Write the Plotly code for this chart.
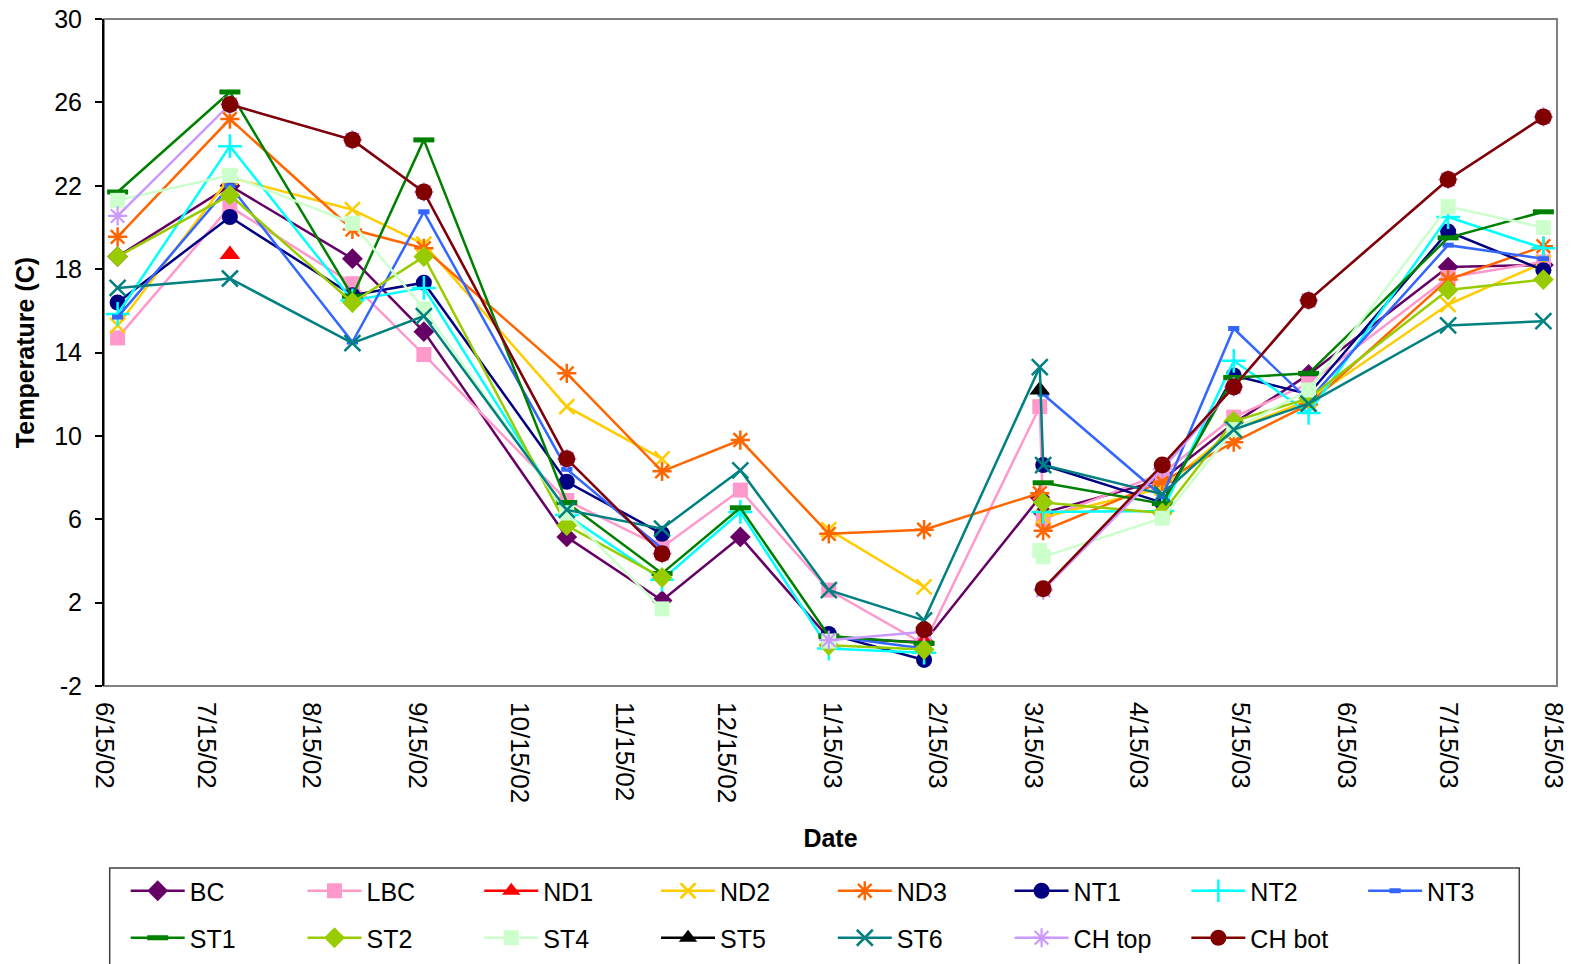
import plotly.graph_objects as go

# ---------------- data ----------------
DATES = ['2002-06-19', '2002-07-22', '2002-08-27', '2002-09-17', '2002-10-29',
         '2002-11-26', '2002-12-19', '2003-01-14', '2003-02-11', '2003-03-17',
         '2003-03-18', '2003-04-22', '2003-05-13', '2003-06-04', '2003-07-15',
         '2003-08-12']

BC = [18.6, 22.0, 18.5, 15.0, 5.15, 2.1, 5.15, 0.3, 0.1, 7.05, 6.3, 7.9, 10.6, 12.95, 18.1, 18.2]
LBC = [14.7, 21.0, 17.3, 13.9, 6.9, 4.65, 7.4, 2.6, 0.0, 11.4, 6.0, 8.2, 10.9, 12.5, 17.6, 18.35]
ND1 = [None, 18.7, None, None, None, None, None, None, 0.15, None, None, None, None, None, None, None]
ND2 = [15.3, 22.4, 20.85, 19.2, 11.4, 8.9, None, 5.5, 2.75, None, 6.1, 7.5, 10.3, 11.7, 16.3, 18.3]
ND3 = [19.55, 25.2, 19.9, 19.0, 13.0, 8.3, 9.8, 5.3, 5.5, 7.25, 5.45, 7.8, 9.7, 11.5, 17.5, 19.1]
NT1 = [16.4, 20.5, 16.75, 17.35, 7.8, 5.3, None, 0.5, -0.75, None, 8.6, 6.8, 12.9, 12.0, 19.8, 17.95]
NT2 = [15.85, 23.9, 16.5, 17.1, 6.2, 3.1, 6.35, -0.2, -0.4, None, 6.35, 6.4, 13.6, 11.1, 20.5, 19.0]
NT3 = [15.7, 22.0, 14.5, 20.75, 8.4, 4.6, None, 0.4, -0.2, None, 12.0, 7.1, 15.15, 11.7, 19.15, 18.5]
ST1 = [21.7, 26.5, 16.7, 24.2, 6.8, 3.4, 6.55, 0.4, 0.05, None, 7.75, 6.75, 12.8, 13.0, 19.5, 20.75]
ST2 = [18.6, 21.55, 16.4, 18.6, 5.7, 3.2, None, -0.05, -0.25, None, 6.8, 6.3, 10.7, 11.8, 17.0, 17.5]
ST4 = [21.3, 22.5, 20.2, 16.1, 6.3, 1.7, None, 0.15, None, 4.5, 4.2, 6.05, 10.3, 12.2, 21.0, 20.0]
ST5 = [None, None, None, None, None, None, None, None, None, 12.2, None, None, None, None, None, None]
ST6 = [17.1, 17.55, 14.45, 15.75, 6.45, 5.55, 8.35, 2.6, 1.15, 13.3, 8.6, 7.2, 10.3, 11.55, 15.3, 15.5]
CH_TOP = [20.55, 25.9, 24.2, 21.7, 8.9, 4.35, None, 0.2, 0.6, None, 2.6, 8.4, 12.35, 16.5, 22.3, 25.3]
CH_BOT = [None, 25.9, 24.2, 21.7, 8.9, 4.35, None, None, 0.7, None, 2.67, 8.6, 12.35, 16.5, 22.3, 25.3]

SERIES_NAMES = ['BC', 'LBC', 'ND1', 'ND2', 'ND3', 'NT1', 'NT2', 'NT3',
                'ST1', 'ST2', 'ST4', 'ST5', 'ST6', 'CH top', 'CH bot']
SERIES_VALUES = [BC, LBC, ND1, ND2, ND3, NT1, NT2, NT3,
                 ST1, ST2, ST4, ST5, ST6, CH_TOP, CH_BOT]

TICK_DATES = ['2002-06-15', '2002-07-15', '2002-08-15', '2002-09-15', '2002-10-15',
              '2002-11-15', '2002-12-15', '2003-01-15', '2003-02-15', '2003-03-15',
              '2003-04-15', '2003-05-15', '2003-06-15', '2003-07-15', '2003-08-15']
TICK_LABELS = ['6/15/02', '7/15/02', '8/15/02', '9/15/02', '10/15/02', '11/15/02',
               '12/15/02', '1/15/03', '2/15/03', '3/15/03', '4/15/03', '5/15/03',
               '6/15/03', '7/15/03', '8/15/03']
Y_TICKS = [-2, 2, 6, 10, 14, 18, 22, 26, 30]
Y_TICK_LABELS = ['-2', '2', '6', '10', '14', '18', '22', '26', '30']

# ---------------- styles ----------------
STYLES = {
    'BC':     dict(color='#660066', symbol='diamond', size=16, lw=0),
    'LBC':    dict(color='#FF99CC', symbol='square', size=15, lw=0),
    'ND1':    dict(color='#FF0000', symbol='triangle-up', size=18, lw=0),
    'ND2':    dict(color='#FFCC00', symbol='x-thin', size=15, lw=2.5),
    'ND3':    dict(color='#FF6600', symbol='asterisk', size=16, lw=2.5),
    'NT1':    dict(color='#000080', symbol='circle', size=16, lw=0),
    'NT2':    dict(color='#00FFFF', symbol='cross-thin', size=17, lw=2.5),
    'NT3':    dict(color='#3366FF', symbol='line-ew', size=8, lw=5),
    'ST1':    dict(color='#008000', symbol='line-ew', size=15, lw=5),
    'ST2':    dict(color='#99CC00', symbol='diamond', size=16, lw=0),
    'ST4':    dict(color='#CCFFCC', symbol='square', size=15, lw=0),
    'ST5':    dict(color='#000000', symbol='triangle-up', size=18, lw=0),
    'ST6':    dict(color='#008080', symbol='x-thin', size=16, lw=2.5),
    'CH top': dict(color='#CC99FF', symbol='asterisk', size=16, lw=2.2),
    'CH bot': dict(color='#800000', symbol='circle', size=17, lw=0),
}

FONT = 'Liberation Sans, Arial, sans-serif'

# plot area geometry (px)
PX_L, PX_R, PX_T, PX_B = 104.3, 1556.7, 19.0, 686.0
W, H = 1575, 964
PW, PH = PX_R - PX_L, PX_B - PX_T

fig = go.Figure()

legends = {}
for i, (name, vals) in enumerate(zip(SERIES_NAMES, SERIES_VALUES)):
    st = STYLES[name]
    key = 'legend' if i == 0 else f'legend{i + 1}'
    row, col = divmod(i, 8)
    line_start_px = 131 + 176.7 * col
    row_center_px = 891 if row == 0 else 938
    legends[key] = dict(
        x=(line_start_px - 5 - PX_L) / PW,
        y=(PX_B - row_center_px) / PH,
        xanchor='left', yanchor='middle',
        orientation='h', itemwidth=54,
        bgcolor='rgba(0,0,0,0)', borderwidth=0,
        font=dict(family=FONT, size=25, color='black'),
    )
    marker = dict(symbol=st['symbol'], size=st['size'], color=st['color'])
    if st['lw']:
        marker['line'] = dict(color=st['color'], width=st['lw'])
    else:
        marker['line'] = dict(width=0)
    fig.add_trace(go.Scatter(
        x=DATES, y=vals, name=name, mode='lines+markers',
        line=dict(color=st['color'], width=2.5),
        marker=marker, connectgaps=False, legend=key,
        cliponaxis=False,
    ))

layout_kwargs = dict(
    width=W, height=H,
    margin=dict(l=PX_L, r=W - PX_R, t=PX_T, b=H - PX_B, autoexpand=False),
    paper_bgcolor='white', plot_bgcolor='white',
    showlegend=True,
    font=dict(family=FONT, color='black'),
    xaxis=dict(
        type='date', range=['2002-06-15', '2003-08-16'],
        tickmode='array', tickvals=TICK_DATES, ticktext=TICK_LABELS,
        tickangle=90, ticks='', showline=False, showgrid=False, zeroline=False,
        tickfont=dict(family=FONT, size=26, color='black'),
        ticklabelstandoff=15,
        title=dict(text='Date', font=dict(family=FONT, size=25, color='black', weight='bold'),
                   standoff=27),
    ),
    xaxis2=dict(
        type='date', range=['2002-06-15', '2003-08-16'], overlaying='x',
        anchor='free', position=(0 - Y_TICKS[0]) / (Y_TICKS[-1] - Y_TICKS[0]),
        tickmode='array', tickvals=TICK_DATES, showticklabels=False,
        ticks='outside', ticklen=8, tickwidth=1.5, tickcolor='#555555',
        showline=True, linecolor='black', linewidth=1.5,
        showgrid=False, zeroline=False, layer='below traces',
    ),
    yaxis=dict(
        range=[Y_TICKS[0], Y_TICKS[-1]], tickmode='array', tickvals=Y_TICKS,
        ticktext=Y_TICK_LABELS,
        ticks='outside', ticklen=7, tickwidth=1.5, tickcolor='black',
        showline=True, linecolor='black', linewidth=2,
        showgrid=False, zeroline=False,
        tickfont=dict(family=FONT, size=25, color='black'),
        ticklabelstandoff=8,
        title=dict(text='Temperature (C)',
                   font=dict(family=FONT, size=25, color='black', weight='bold'),
                   standoff=12),
    ),
    shapes=[
        dict(type='rect', xref='paper', yref='paper', x0=0, x1=1, y0=0, y1=1,
             line=dict(color='#808080', width=2), layer='below'),
        dict(type='rect', xref='paper', yref='paper',
             x0=(110 - PX_L) / PW, x1=(1519 - PX_L) / PW,
             y0=(PX_B - 990) / PH, y1=(PX_B - 868) / PH,
             line=dict(color='#404040', width=1.5), layer='below'),
    ],
)
layout_kwargs.update(legends)
fig.update_layout(**layout_kwargs)

fig.write_html('out.html', config={'displayModeBar': False})
